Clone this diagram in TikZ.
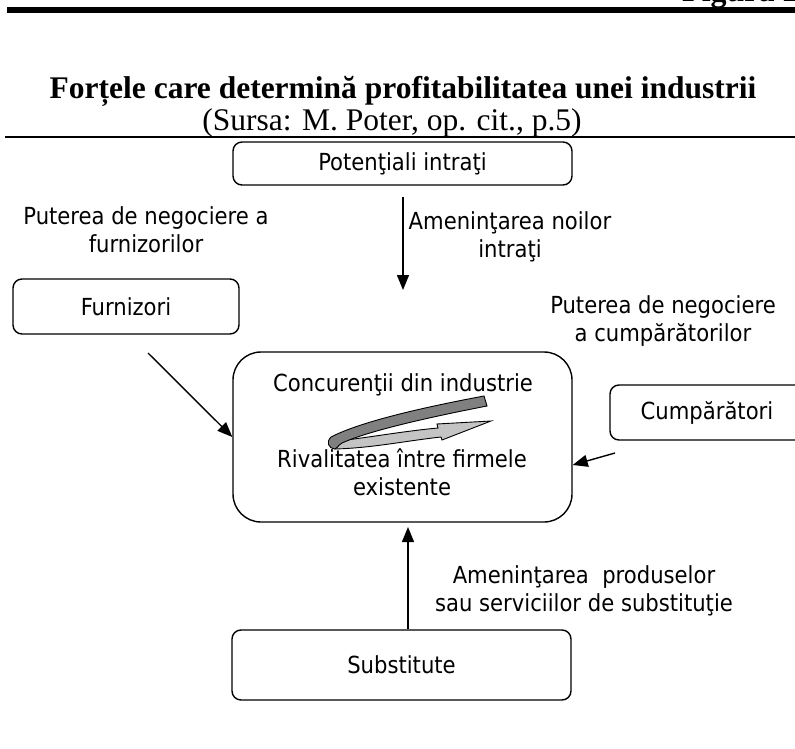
\documentclass[tikz,border=0pt]{standalone}
\usepackage{fontspec}
\setmainfont{Liberation Serif}
\newfontfamily\boxfont{DejaVu Sans Condensed}
\usetikzlibrary{positioning,arrows.meta,calc}
\definecolor{RivalDark}{RGB}{128,128,128}
\definecolor{RivalLight}{RGB}{196,196,196}

\begin{document}
\begin{tikzpicture}[x=1pt,y=-1pt,
  every node/.style={font=\boxfont\fontsize{23.5}{28}\selectfont},
  force/.style={draw, rounded corners=9pt, line width=1.4pt, inner sep=0pt},
  lbl/.style={align=center, inner sep=0pt},
  push/.style={-{Triangle[length=15pt,width=12pt]}, line width=1.4pt}]
  \useasboundingbox (0,0) rectangle (795,749);
  % header
  \node[anchor=base west, inner sep=0pt, font=\bfseries\fontsize{32}{36}\selectfont] (figno) at (682,1.5) {Figura 2.1};
  \fill (7,7) rectangle (795,13);
  \node[inner sep=0pt, font=\bfseries\fontsize{31.5}{36}\selectfont] (title) at (403,91.5) {Forțele care determină profitabilitatea unei industrii};
  \node[inner sep=0pt, font=\fontsize{31.5}{36}\selectfont] (source) at (392,123) {(Sursa: M. Poter, op. cit., p.5)};
  \draw[line width=1.4pt] (5,137) -- (795,137);
  % the five forces
  \node[force, minimum width=339, minimum height=43] (entrants) at (402.5,163.5) {Potenţiali intraţi};
  \node[force, minimum width=226, minimum height=55] (suppliers) at (126,306.5) {Furnizori};
  \node[force, rounded corners=28pt, minimum width=339, minimum height=170] (rivalry) at (402.5,437) {};
  \node[force, minimum width=194, minimum height=55] (buyers) at (707,412.5) {Cumpărători};
  \node[force, minimum width=339, minimum height=70] (substitutes) at (401.5,665) {Substitute};
  \node[lbl] (competitors) at (403,385) {Concurenţii din industrie};
  \node[lbl] (rivaltext) at (402,472) {Rivalitatea între firmele\\existente};
  % labels
  \node[lbl] (supplierpow) at (146,230) {Puterea de negociere a\\furnizorilor};
  \node[lbl] (entrythreat) at (510,237) {Ameninţarea noilor\\intraţi};
  \node[lbl] (buyerpow) at (663,321) {Puterea de negociere\\a cumpărătorilor};
  \node[lbl] (substthreat) at (584,591) {Ameninţarea\ \ produselor\\sau serviciilor de substituţie};
  % arrows
  \coordinate (entryTop) at (403,197);
  \coordinate (entryTip) at (403,290);
  \coordinate (supStart) at (148,353);
  \coordinate (buyStart) at (615,453);
  \coordinate (subTip) at (408,527);
  \draw[push] (entryTop) -- (entryTip);
  \draw[push] (supStart) -- (rivalry.west);
  \draw[push] (buyStart) -- ([yshift=-28pt]rivalry.east);
  \draw[push] ([xshift=6.5pt]substitutes.north) -- (subTip);
  % curved rivalry arrow
  \filldraw[fill=RivalLight, line width=0.9pt] (338,441) .. controls (372,437) and (405,431) .. (438,428)
    -- (437,424) -- (491,421) -- (442,440) -- (441,437)
    .. controls (405,441) and (372,448) .. (335,449) -- cycle;
  \filldraw[fill=RivalDark, line width=0.9pt] (484,396) -- (487,406)
    .. controls (420,419) and (366,432) .. (342,443)
    .. controls (337,446) and (337,449) .. (335,449)
    .. controls (328,448) and (326,442) .. (331,437)
    .. controls (360,422) and (420,408) .. (484,396) -- cycle;
\end{tikzpicture}
\end{document}
